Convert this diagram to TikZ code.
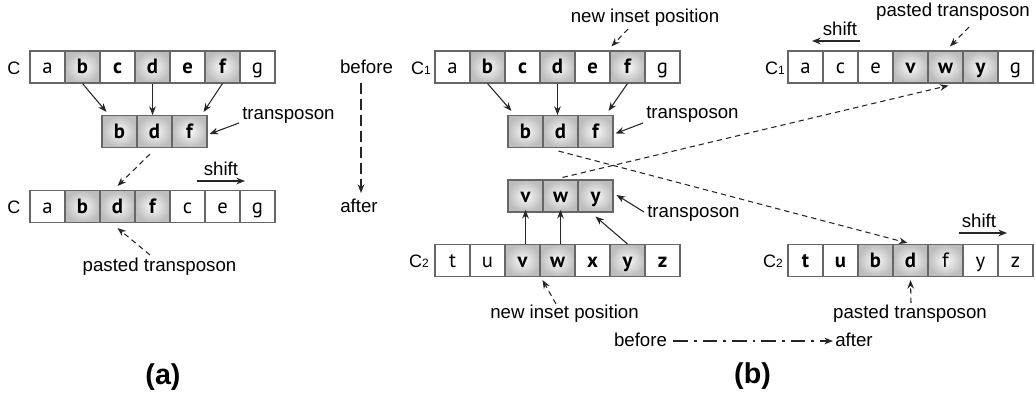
\documentclass[tikz,border=0pt]{standalone}
\usepackage{fontspec}
\setmainfont{Liberation Sans}
\newfontfamily\cellfont{PT Sans}
\usetikzlibrary{arrows.meta}

\tikzset{
  cell/.style={draw=black!60, line width=0.8pt, minimum width=26.25pt,
    minimum height=24pt, inner sep=0pt, text height=12pt, text depth=2pt},
  pl/.style={fill=white},
  sh/.style={shading=radial, inner color=black!2, outer color=black!26},
  bd/.style={font=\cellfont\fontsize{15.5}{17}\selectfont\bfseries},
  rg/.style={font=\cellfont\fontsize{15.5}{17}\selectfont},
  lab/.style={font=\fontsize{14}{16}\selectfont, inner sep=0pt},
  cname/.style={font=\fontsize{13.5}{15}\selectfont, inner sep=0pt},
  panel/.style={font=\fontsize{21.5}{24}\selectfont\bfseries, inner sep=0pt},
  arr/.style={draw=black!85, line width=0.8pt, -{Stealth[length=6.5pt,width=5pt]}},
  darr/.style={arr, dash pattern=on 4pt off 3pt},
  longdash/.style={arr, dash pattern=on 8pt off 4pt},
  dashdot/.style={arr, dash pattern=on 11pt off 4.5pt on 2pt off 4.5pt},
}

% one row of cells: name, left edge, vertical centre, letter/fill/weight list
\newcommand\cellrow[4]{%
  \foreach \xa/\xb/\xc [count=\i] in {#4}
    \node[cell,\xb,\xc] (#1-\i) at ({#2+35*\i-17.5},#3) {\xa};}
\newcommand\chrom[1]{C{\fontsize{9}{9}\selectfont #1}}

\begin{document}
\begin{tikzpicture}[x=0.75pt,y=-0.75pt]
\useasboundingbox (0,0) rectangle (1036,395);

% ---------------- (a) ----------------
\node[cname] (aCt) at (14,68) {C};
\node[cname] (aCb) at (14,207) {C};
\cellrow{aT}{30}{67}{a/pl/rg, b/sh/bd, c/pl/bd, d/sh/bd, e/pl/bd, f/sh/bd, g/pl/rg}
\cellrow{aM}{102}{131.5}{b/sh/bd, d/sh/bd, f/sh/bd}
\cellrow{aB}{30}{206.5}{a/pl/rg, b/sh/bd, d/sh/bd, f/sh/bd, c/pl/rg, e/pl/rg, g/pl/rg}

\draw[arr] (aT-2.south) -- ([shift={(5,-3)}]aM-1.north west);
\draw[arr] (aT-4.south) -- (aT-4.south |- aM-2.north);
\draw[arr] (aT-6.south) -- ([shift={(-4,-3)}]aM-3.north east);

\node[lab, anchor=base west] (aLt) at (242,120) {transposon};
\draw[arr] ([shift={(-3,3)}]aLt.base west) -- ([shift={(2,2.5)}]aM-3.east);

\draw[darr] ([shift={(-4.5,6)}]aM-2.south) -- ([shift={(0,-4)}]aB-3.north);

\node[lab, anchor=base] (aSh) at (221,176) {shift};
\draw[arr] ([shift={(-24,5)}]aSh.base) -- ([shift={(24,5)}]aSh.base);

\node[lab, anchor=base] (aPt) at (159.5,271.5) {pasted transposon};
\draw[darr] ([shift={(-9.5,-16.5)}]aPt.base) -- ([shift={(0,5)}]aB-3.south);

\node[lab, anchor=base] (aBef) at (366.5,74) {before};
\node[lab, anchor=base] (aAft) at (359,213) {after};
\draw[longdash] ([shift={(-5.5,9)}]aBef.base) -- ([shift={(2,-20)}]aAft.base);

\node[panel] (aPan) at (163,377) {(a)};

% ---------------- (b) ----------------
\node[cname] (bCt) at (421,68) {\chrom{1}};
\node[cname] (bCb) at (419,261) {\chrom{2}};
\cellrow{bT}{435}{67}{a/pl/rg, b/sh/bd, c/pl/bd, d/sh/bd, e/pl/bd, f/sh/bd, g/pl/rg}
\cellrow{bM}{508}{131.5}{b/sh/bd, d/sh/bd, f/sh/bd}
\cellrow{bV}{508}{196}{v/sh/bd, w/sh/bd, y/sh/bd}
\cellrow{bC}{435}{260.5}{t/pl/rg, u/pl/rg, v/sh/bd, w/sh/bd, x/pl/bd, y/sh/bd, z/pl/bd}

\draw[arr] (bT-2.south) -- ([shift={(4,-4)}]bM-1.north west);
\draw[arr] (bT-4.south) -- (bT-4.south |- bM-2.north);
\draw[arr] (bT-6.south) -- ([shift={(-5,-4)}]bM-3.north east);

\node[lab, anchor=base] (bNi) at (645,23) {new inset position};
\draw[darr] ([shift={(-17,6)}]bNi.base) -- ([shift={(2,-4)}]bT-6.north west);

\node[lab, anchor=base west] (bLt) at (646,119) {transposon};
\draw[arr] ([shift={(-3,4)}]bLt.base west) -- ([shift={(2,2)}]bM-3.east);

\node[lab, anchor=base west] (bLv) at (647,218) {transposon};
\draw[arr] ([shift={(-3,-6)}]bLv.base west) -- ([shift={(3,-1)}]bV-3.east);

\draw[arr] (bV-1.south |- bC-3.north) -- ([yshift=2]bV-1.south);
\draw[arr] (bV-2.south |- bC-4.north) -- ([yshift=2]bV-2.south);
\draw[arr] (bC-6.north) -- ([shift={(0,4)}]bV-3.south);

\node[lab, anchor=base] (bNb) at (564.5,319) {new inset position};
\draw[darr] ([shift={(-8.5,-15)}]bNb.base) -- ([shift={(2,3)}]bC-3.south east);

% results
\node[cname] (rCt) at (775,68) {\chrom{1}};
\node[cname] (rCb) at (773,261) {\chrom{2}};
\cellrow{rT}{788}{67}{a/pl/rg, c/pl/rg, e/pl/rg, v/sh/bd, w/sh/bd, y/sh/bd, g/pl/rg}
\cellrow{rC}{788}{260.5}{t/pl/bd, u/pl/bd, b/sh/bd, d/sh/bd, f/sh/rg, y/pl/rg, z/pl/rg}

\node[lab, anchor=base] (rSt) at (840,36) {shift};
\draw[arr] ([shift={(20,5)}]rSt.base) -- ([shift={(-28,5)}]rSt.base);

\node[lab, anchor=base] (rPt) at (953,17) {pasted transposon};
\draw[darr] ([shift={(16,10)}]rPt.base) -- ([shift={(4.5,-4)}]rT-5.north);

\node[lab, anchor=base] (rSb) at (979,228) {shift};
\draw[arr] ([shift={(-20,5)}]rSb.base) -- ([shift={(28,5)}]rSb.base);

\node[lab, anchor=base] (rPb) at (910,319) {pasted transposon};
\draw[darr] ([shift={(1,-16)}]rPb.base) -- ([shift={(0,3)}]rC-4.south);

% transfers between the chromosomes
\draw[darr] ([shift={(-2,3)}]bM-2.south) -- ([shift={(-3,-1)}]rC-4.north);
\draw[darr] ([shift={(2,-2)}]bV-2.north) -- ([shift={(3,2)}]rT-5.south);

\node[lab, anchor=base] (bBef) at (640.5,347) {before};
\node[lab, anchor=base west] (bAft) at (835,347) {after};
\draw[dashdot] ([shift={(6,-6)}]bBef.base east) -- ([shift={(-2,-6)}]bAft.base west);

\node[panel] (bPan) at (752.5,376) {(b)};
\end{tikzpicture}
\end{document}
